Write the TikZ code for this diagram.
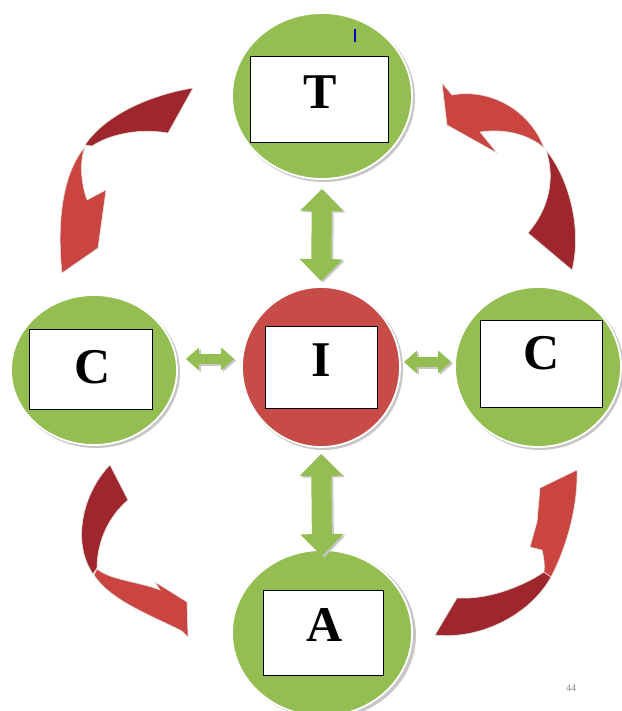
\documentclass[tikz,border=0pt]{standalone}
\usepackage{fontspec}
\setmainfont{Liberation Serif}
\usetikzlibrary{shapes.geometric,arrows.meta}
\definecolor{cgreen}{RGB}{148,190,82}
\definecolor{cred}{RGB}{199,76,72}
\definecolor{adark}{RGB}{158,38,44}
\definecolor{alight}{RGB}{202,68,64}
\begin{document}
\begin{tikzpicture}[x=1pt,y=-1pt,
  gcirc/.style={ellipse, fill=cgreen, draw=white, line width=1.8pt, inner sep=0pt},
  rcirc/.style={gcirc, fill=cred},
  cshadow/.style={fill=black!22},
  box/.style={rectangle, draw=black, line width=1pt, fill=white, inner sep=0pt},
  lbl/.style={font=\fontsize{50}{50}\selectfont\bfseries, inner sep=0pt},
  darkpart/.style={fill=adark, draw=black!12, line width=0.6pt},
  lightpart/.style={fill=alight, draw=black!12, line width=0.6pt},
  garrowv/.style={line width=20pt, draw=cgreen, arrows={Triangle[width=42pt,length=22pt]-Triangle[width=42pt,length=22pt]}},
  garrowh/.style={line width=10pt, draw=cgreen, arrows={Triangle[width=22pt,length=13pt]-Triangle[width=22pt,length=13pt]}},
  gshadow/.style={draw=black!22, transform canvas={xshift=2pt,yshift=-1.5pt}}
]
\useasboundingbox (0,0) rectangle (621,711);

% circle shadows
\fill[cshadow] (324,98) ellipse [x radius=91, y radius=84];
\fill[cshadow] (96,372) ellipse [x radius=84, y radius=76];
\fill[cshadow] (323,369) ellipse [x radius=80, y radius=81];
\fill[cshadow] (540,369) ellipse [x radius=84, y radius=81];
\fill[cshadow] (325,635) ellipse [x radius=91, y radius=84];

% circles
\node[gcirc, minimum width=180pt, minimum height=166pt] (cT) at (322,96) {};
\node[gcirc, minimum width=166pt, minimum height=150pt] (cL) at (94,370) {};
\node[rcirc, minimum width=158pt, minimum height=160pt] (cI) at (321,367) {};
\node[gcirc, minimum width=166pt, minimum height=160pt] (cR) at (538,367) {};
\node[gcirc, minimum width=180pt, minimum height=166pt] (cA) at (322,633) {};

% boxes
\node[box, minimum width=138pt, minimum height=86pt] (rT) at (319,100) {};
\node[box, minimum width=123pt, minimum height=80pt] (rL) at (90.5,369) {};
\node[box, minimum width=112pt, minimum height=82pt] (rI) at (321,367) {};
\node[box, minimum width=122pt, minimum height=87pt] (rR) at (541,363.5) {};
\node[box, minimum width=120pt, minimum height=85pt] (rA) at (323,632.5) {};

% labels
\node[lbl] (tT) at (320,92) {T};
\node[lbl] (tL) at (93,367) {C};
\node[lbl] (tI) at (321,360) {I};
\node[lbl] (tR) at (542,353) {C};
\node[lbl] (tA) at (325,625) {A};

% small blue mark
\draw[blue!75!black, line width=1.3pt] (355,29) -- (355,42);

% green double arrows (shadows then arrows)
\draw[garrowv, gshadow, shorten <=9pt, shorten >=5pt] (cT.south) -- (cI.north);
\draw[garrowv, shorten <=9pt, shorten >=5pt] (cT.south) -- (cI.north);
\draw[garrowv, gshadow, shorten <=6pt, shorten >=-7pt] (cI.south) -- (cA.north);
\draw[garrowv, shorten <=6pt, shorten >=-7pt] (cI.south) -- (cA.north);
\draw[garrowh, gshadow, shorten <=8pt, shorten >=7pt] ([yshift=11pt]cL.east) -- ([yshift=8pt]cI.west);
\draw[garrowh, shorten <=8pt, shorten >=7pt] ([yshift=11pt]cL.east) -- ([yshift=8pt]cI.west);
\draw[garrowh, gshadow, shorten <=3pt, shorten >=3pt] ([yshift=5pt]cI.east) -- ([yshift=5pt]cR.west);
\draw[garrowh, shorten <=3pt, shorten >=3pt] ([yshift=5pt]cI.east) -- ([yshift=5pt]cR.west);

% red curved arrows
% top-left
\path[darkpart] (193,88) .. controls (150,95) and (105,115) .. (85,145) -- (92,146) .. controls (110,134) and (140,128) .. (168,133) -- cycle;
\path[lightpart] (85,147) .. controls (65,170) and (56,215) .. (62,273) -- (98,248) -- (106,190) -- (87,200) .. controls (80,180) and (80,160) .. (85,147) -- cycle;
% top-right
\path[lightpart] (442,83) -- (452,95) .. controls (490,88) and (530,110) .. (544,148) .. controls (530,135) and (505,128) .. (480,132) -- (497,153) -- (447,125) -- cycle;
\path[darkpart] (546,150) .. controls (570,180) and (582,230) .. (572,270) -- (528,233) .. controls (548,210) and (556,180) .. (546,150) -- cycle;
% bottom-left
\path[darkpart] (110,465) .. controls (85,490) and (70,540) .. (93,574) -- (97,568) .. controls (97,540) and (110,515) .. (128,500) -- cycle;
\path[lightpart] (94,575) .. controls (110,600) and (150,615) .. (182,631) -- (188,637) -- (187,602) -- (155,582) -- (160,590) .. controls (140,582) and (110,580) .. (97,569) -- cycle;
% bottom-right
\path[darkpart] (435,635) .. controls (480,640) and (530,615) .. (551,577) -- (544,572) .. controls (525,585) and (490,600) .. (457,598) -- cycle;
\path[lightpart] (551,577) .. controls (565,550) and (578,510) .. (577,470) -- (540,488) -- (537,522) -- (530,547) -- (542,550) .. controls (544,558) and (545,566) .. (544,572) -- cycle;

% page number
\node[font=\fontsize{10}{10}\selectfont, text=black!45, inner sep=0pt] (pg) at (571,688) {44};
\end{tikzpicture}
\end{document}
